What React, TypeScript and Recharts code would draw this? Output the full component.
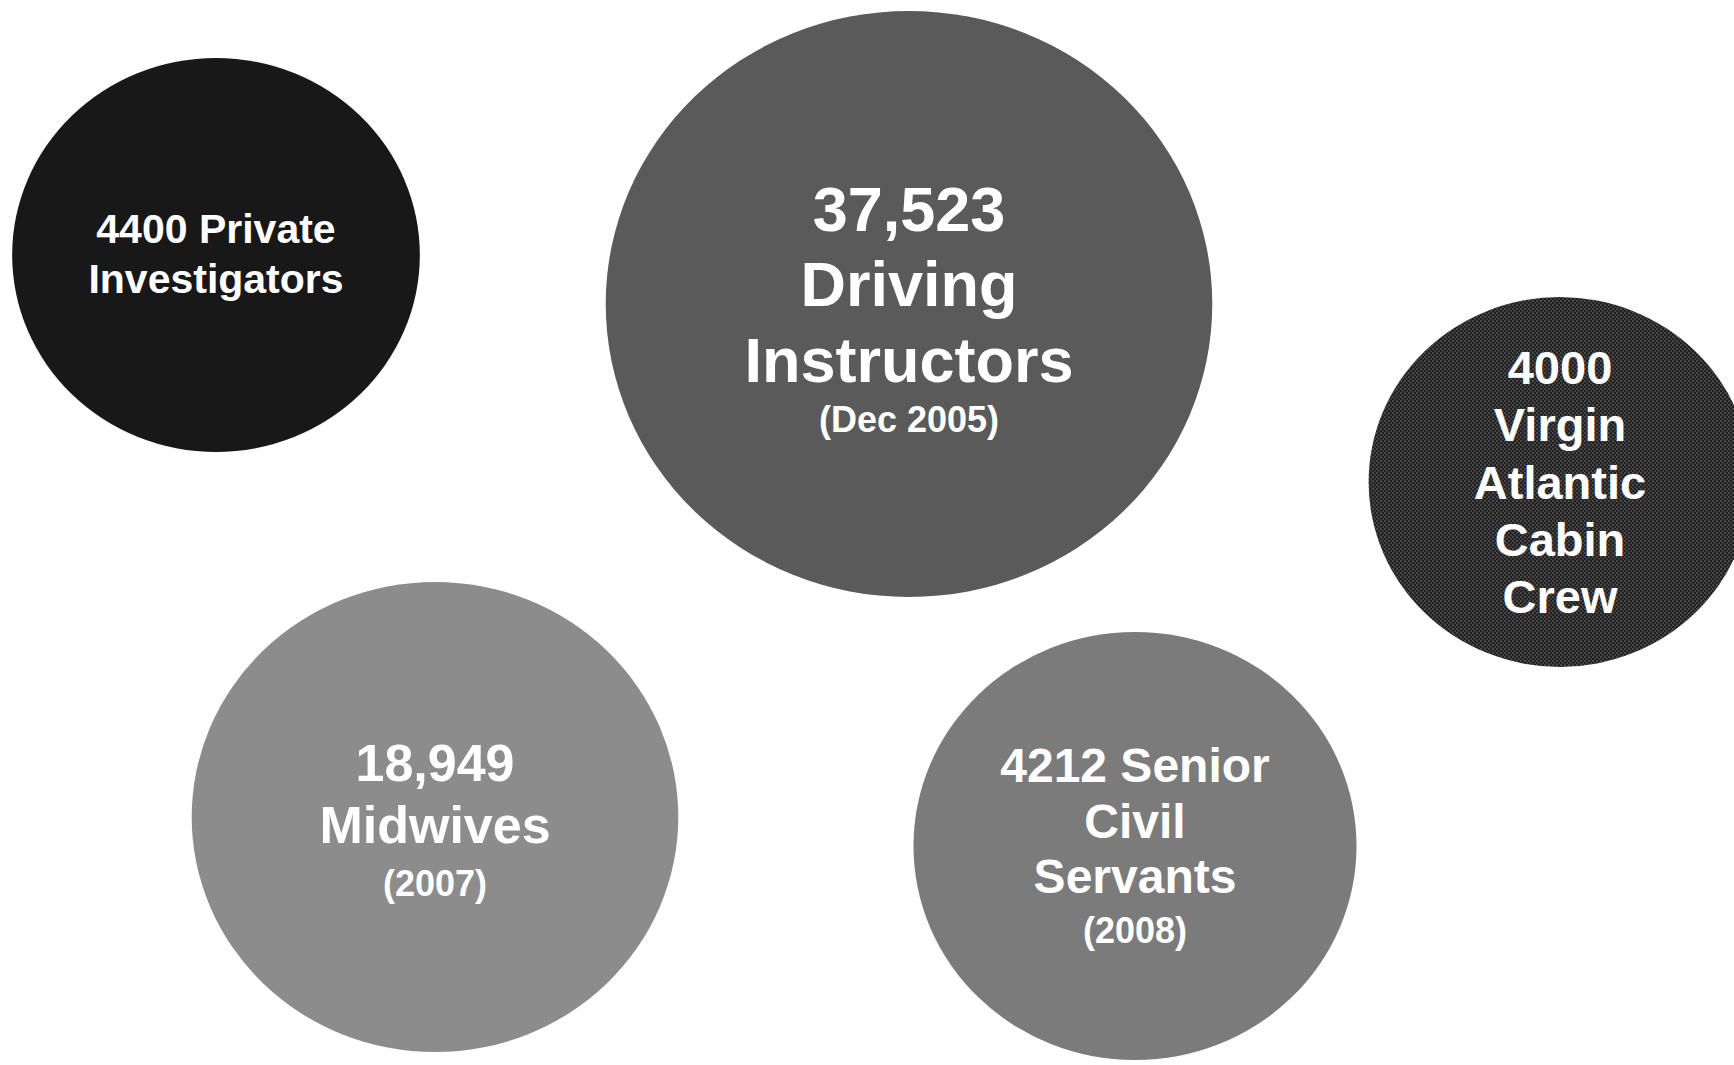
import { ScatterChart, Scatter, XAxis, YAxis, ZAxis } from "recharts";

// professions compared in the picture
const categories = [
  "Private Investigators",
  "Driving Instructors",
  "Virgin Atlantic Cabin Crew",
  "Midwives",
  "Senior Civil Servants",
];
const counts = [4400, 37523, 4000, 18949, 4212];
// bubble placement on the page (hidden axes) and relative bubble area
const posX = [216, 909, 1560, 435, 1135];
const posY = [255, 304, 482, 817, 846];
const bubbleArea = [43.1, 95.4, 38.0, 61.4, 50.9];
const labelLines = [
  ["4400 Private", "Investigators"],
  ["37,523", "Driving", "Instructors"],
  ["4000", "Virgin", "Atlantic", "Cabin", "Crew"],
  ["18,949", "Midwives"],
  ["4212 Senior", "Civil", "Servants"],
];
const noteLines = ["", "(Dec 2005)", "", "(2007)", "(2008)"];

// styles
const FILLS = ["#181818", "#5a5a5a", "#2b2b2b", "#8c8c8c", "#7b7b7b"];
const FONT_SIZE = [41, 63, 47, 52, 48];
const LINE_GAP = [1.22, 1.2, 1.22, 1.2, 1.15];
const NOTE_GAP = [28, 28, 28, 32, 30];
const LABEL_DY = [-1, 10, 0, 6, 2];
const NOTE_SIZE = 36;
const ASPECT = 1.035;
const FONT = "'Liberation Sans', Arial, Helvetica, sans-serif";

const data = categories.map((name, i) => ({
  name,
  count: counts[i],
  x: posX[i],
  y: posY[i],
  z: bubbleArea[i],
  idx: i,
}));

function Bubble(props: any) {
  const { cx, cy, payload } = props;
  const i = payload.idx as number;
  const r =
    props.width != null ? props.width / 2 : Math.sqrt(Math.max(props.size ?? 0, 0) / Math.PI);
  const fs = FONT_SIZE[i];
  const lines = labelLines[i];
  const note = noteLines[i];

  // centre offsets of each text line
  const offs: number[] = [];
  let y = 0;
  lines.forEach((_, k) => {
    if (k > 0) y += fs * LINE_GAP[i];
    offs.push(y);
  });
  let noteOff = 0;
  if (note) {
    noteOff = y + fs * 0.5 + NOTE_GAP[i];
    y = noteOff;
  }
  const start = cy - y / 2 + LABEL_DY[i];
  const patId = `bubble-tex-${i}`;

  return (
    <g>
      {i === 2 && (
        <defs>
          <pattern id={patId} width="4" height="4" patternUnits="userSpaceOnUse">
            <rect width="4" height="4" fill="#222" />
            <rect x="0" y="0" width="2" height="2" fill="#474747" />
            <rect x="2" y="2" width="2" height="2" fill="#3c3c3c" />
          </pattern>
        </defs>
      )}
      <ellipse
        cx={cx}
        cy={cy}
        rx={r * ASPECT}
        ry={r}
        fill={i === 2 ? `url(#${patId})` : FILLS[i]}
      />
      {lines.map((t, k) => (
        <text
          key={k}
          x={cx}
          y={start + offs[k]}
          textAnchor="middle"
          dominantBaseline="central"
          fill="#ffffff"
          fontFamily={FONT}
          fontWeight="bold"
          fontSize={fs}
        >
          {t}
        </text>
      ))}
      {note && (
        <text
          x={cx}
          y={start + noteOff}
          textAnchor="middle"
          dominantBaseline="central"
          fill="#ffffff"
          fontFamily={FONT}
          fontWeight="bold"
          fontSize={NOTE_SIZE}
        >
          {note}
        </text>
      )}
    </g>
  );
}

export default function App() {
  return (
    <div style={{ position: "absolute", left: 0, top: 0, background: "#ffffff" }}>
      <ScatterChart width={1734} height={1065} margin={{ top: 0, right: 0, bottom: 0, left: 0 }}>
        <XAxis type="number" dataKey="x" domain={[0, 1734]} hide allowDataOverflow />
        <YAxis type="number" dataKey="y" domain={[0, 1065]} reversed hide allowDataOverflow />
        <ZAxis type="number" dataKey="z" domain={[0, 100]} range={[0, Math.PI * 300 * 300]} />
        <Scatter data={data} shape={Bubble} isAnimationActive={false} />
      </ScatterChart>
    </div>
  );
}
